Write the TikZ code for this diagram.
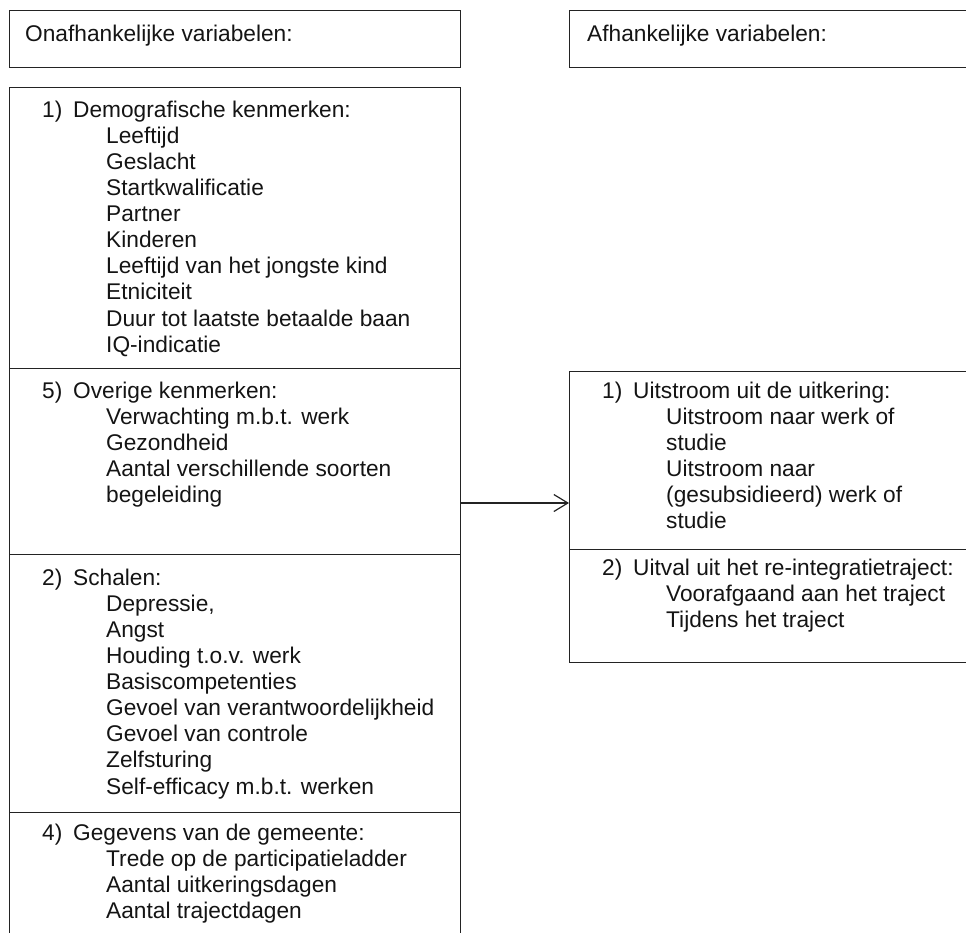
\documentclass[tikz,border=0pt]{standalone}
\usepackage{fontspec}
\setmainfont{Liberation Sans}
\usepackage{tikz}
\usetikzlibrary{arrows.meta, calc}
\usepackage{xcolor}
\definecolor{lijngrijs}{RGB}{35, 35, 35}
\definecolor{tekstzwart}{RGB}{20, 20, 20}

% heading line with number, and an indented item line
\newcommand{\kop}[2]{\strut\makebox[31pt][l]{#1}#2}
\newcommand{\punt}[1]{\hspace*{64pt}#1}

\begin{document}
\begin{tikzpicture}[x=1pt, y=-1pt,
    vak/.style={draw=lijngrijs, line width=1.4pt, anchor=north west,
      inner sep=0pt, minimum width=451pt},
    tekst/.style={anchor=north west, inner sep=0pt, align=left, text=tekstzwart,
      font=\fontsize{22.7}{26.1}\selectfont},
    pijl/.style={-{Straight Barb[length=14pt, width=17pt, line width=1.2pt]},
      line width=1.2pt, lijngrijs}]

  \useasboundingbox (0, 0) rectangle (966, 932);
  \clip (0, 0) rectangle (966, 932);

  % --- Header boxes ---
  \node[vak, minimum height=56.7pt] (kopOnaf) at (9, 10) {};
  \node[vak, minimum height=56.7pt, minimum width=420pt] (kopAf) at (569, 10) {};
  \node[tekst] (kopOnafTxt) at ($(kopOnaf.north west)+(16, 13.5)$) {\strut Onafhankelijke variabelen:};
  \node[tekst] (kopAfTxt) at ($(kopAf.north west)+(18, 13.5)$) {\strut Afhankelijke variabelen:};

  % --- Independent variables (left column) ---
  \node[vak, minimum height=281pt] (demo) at (9, 87) {};
  \node[vak, minimum height=186pt] (overig) at (9, 368) {};
  \node[vak, minimum height=258pt] (schalen) at (9, 554) {};
  \node[vak, minimum height=150pt] (gemeente) at (9, 812) {};

  \node[tekst] (demoTxt) at ($(demo.north west)+(33, 11.8)$) {%
    \kop{1)}{Demografische kenmerken:}\\
    \punt{Leeftijd}\\
    \punt{Geslacht}\\
    \punt{Startkwalificatie}\\
    \punt{Partner}\\
    \punt{Kinderen}\\
    \punt{Leeftijd van het jongste kind}\\
    \punt{Etniciteit}\\
    \punt{Duur tot laatste betaalde baan}\\
    \punt{IQ-indicatie}};

  \node[tekst] (overigTxt) at ($(overig.north west)+(33, 11.8)$) {%
    \kop{5)}{Overige kenmerken:}\\
    \punt{Verwachting m.b.t. werk}\\
    \punt{Gezondheid}\\
    \punt{Aantal verschillende soorten}\\
    \punt{begeleiding}};

  \node[tekst] (schalenTxt) at ($(schalen.north west)+(33, 12.8)$) {%
    \kop{2)}{Schalen:}\\
    \punt{Depressie,}\\
    \punt{Angst}\\
    \punt{Houding t.o.v. werk}\\
    \punt{Basiscompetenties}\\
    \punt{Gevoel van verantwoordelijkheid}\\
    \punt{Gevoel van controle}\\
    \punt{Zelfsturing}\\
    \punt{Self-efficacy m.b.t. werken}};

  \node[tekst] (gemeenteTxt) at ($(gemeente.north west)+(33, 9.8)$) {%
    \kop{4)}{Gegevens van de gemeente:}\\
    \punt{Trede op de participatieladder}\\
    \punt{Aantal uitkeringsdagen}\\
    \punt{Aantal trajectdagen}};

  % --- Dependent variables (right column) ---
  \node[vak, minimum height=178pt, minimum width=420pt] (uitstroom) at (569, 371) {};
  \node[vak, minimum height=113pt, minimum width=420pt] (uitval) at (569, 549) {};

  \node[tekst] (uitstroomTxt) at ($(uitstroom.north west)+(33, 8.8)$) {%
    \kop{1)}{Uitstroom uit de uitkering:}\\
    \punt{Uitstroom naar werk of}\\
    \punt{studie}\\
    \punt{Uitstroom naar}\\
    \punt{(gesubsidieerd) werk of}\\
    \punt{studie}};

  \node[tekst] (uitvalTxt) at ($(uitval.north west)+(33, 7.8)$) {%
    \kop{2)}{Uitval uit het re-integratietraject:}\\
    \punt{Voorafgaand aan het traject}\\
    \punt{Tijdens het traject}};

  % Arrow from left column to right column
  \coordinate (pijlhoogte) at (0, 503);
  \draw[pijl] (overig.east |- pijlhoogte) -- (uitstroom.west |- pijlhoogte);

\end{tikzpicture}
\end{document}
